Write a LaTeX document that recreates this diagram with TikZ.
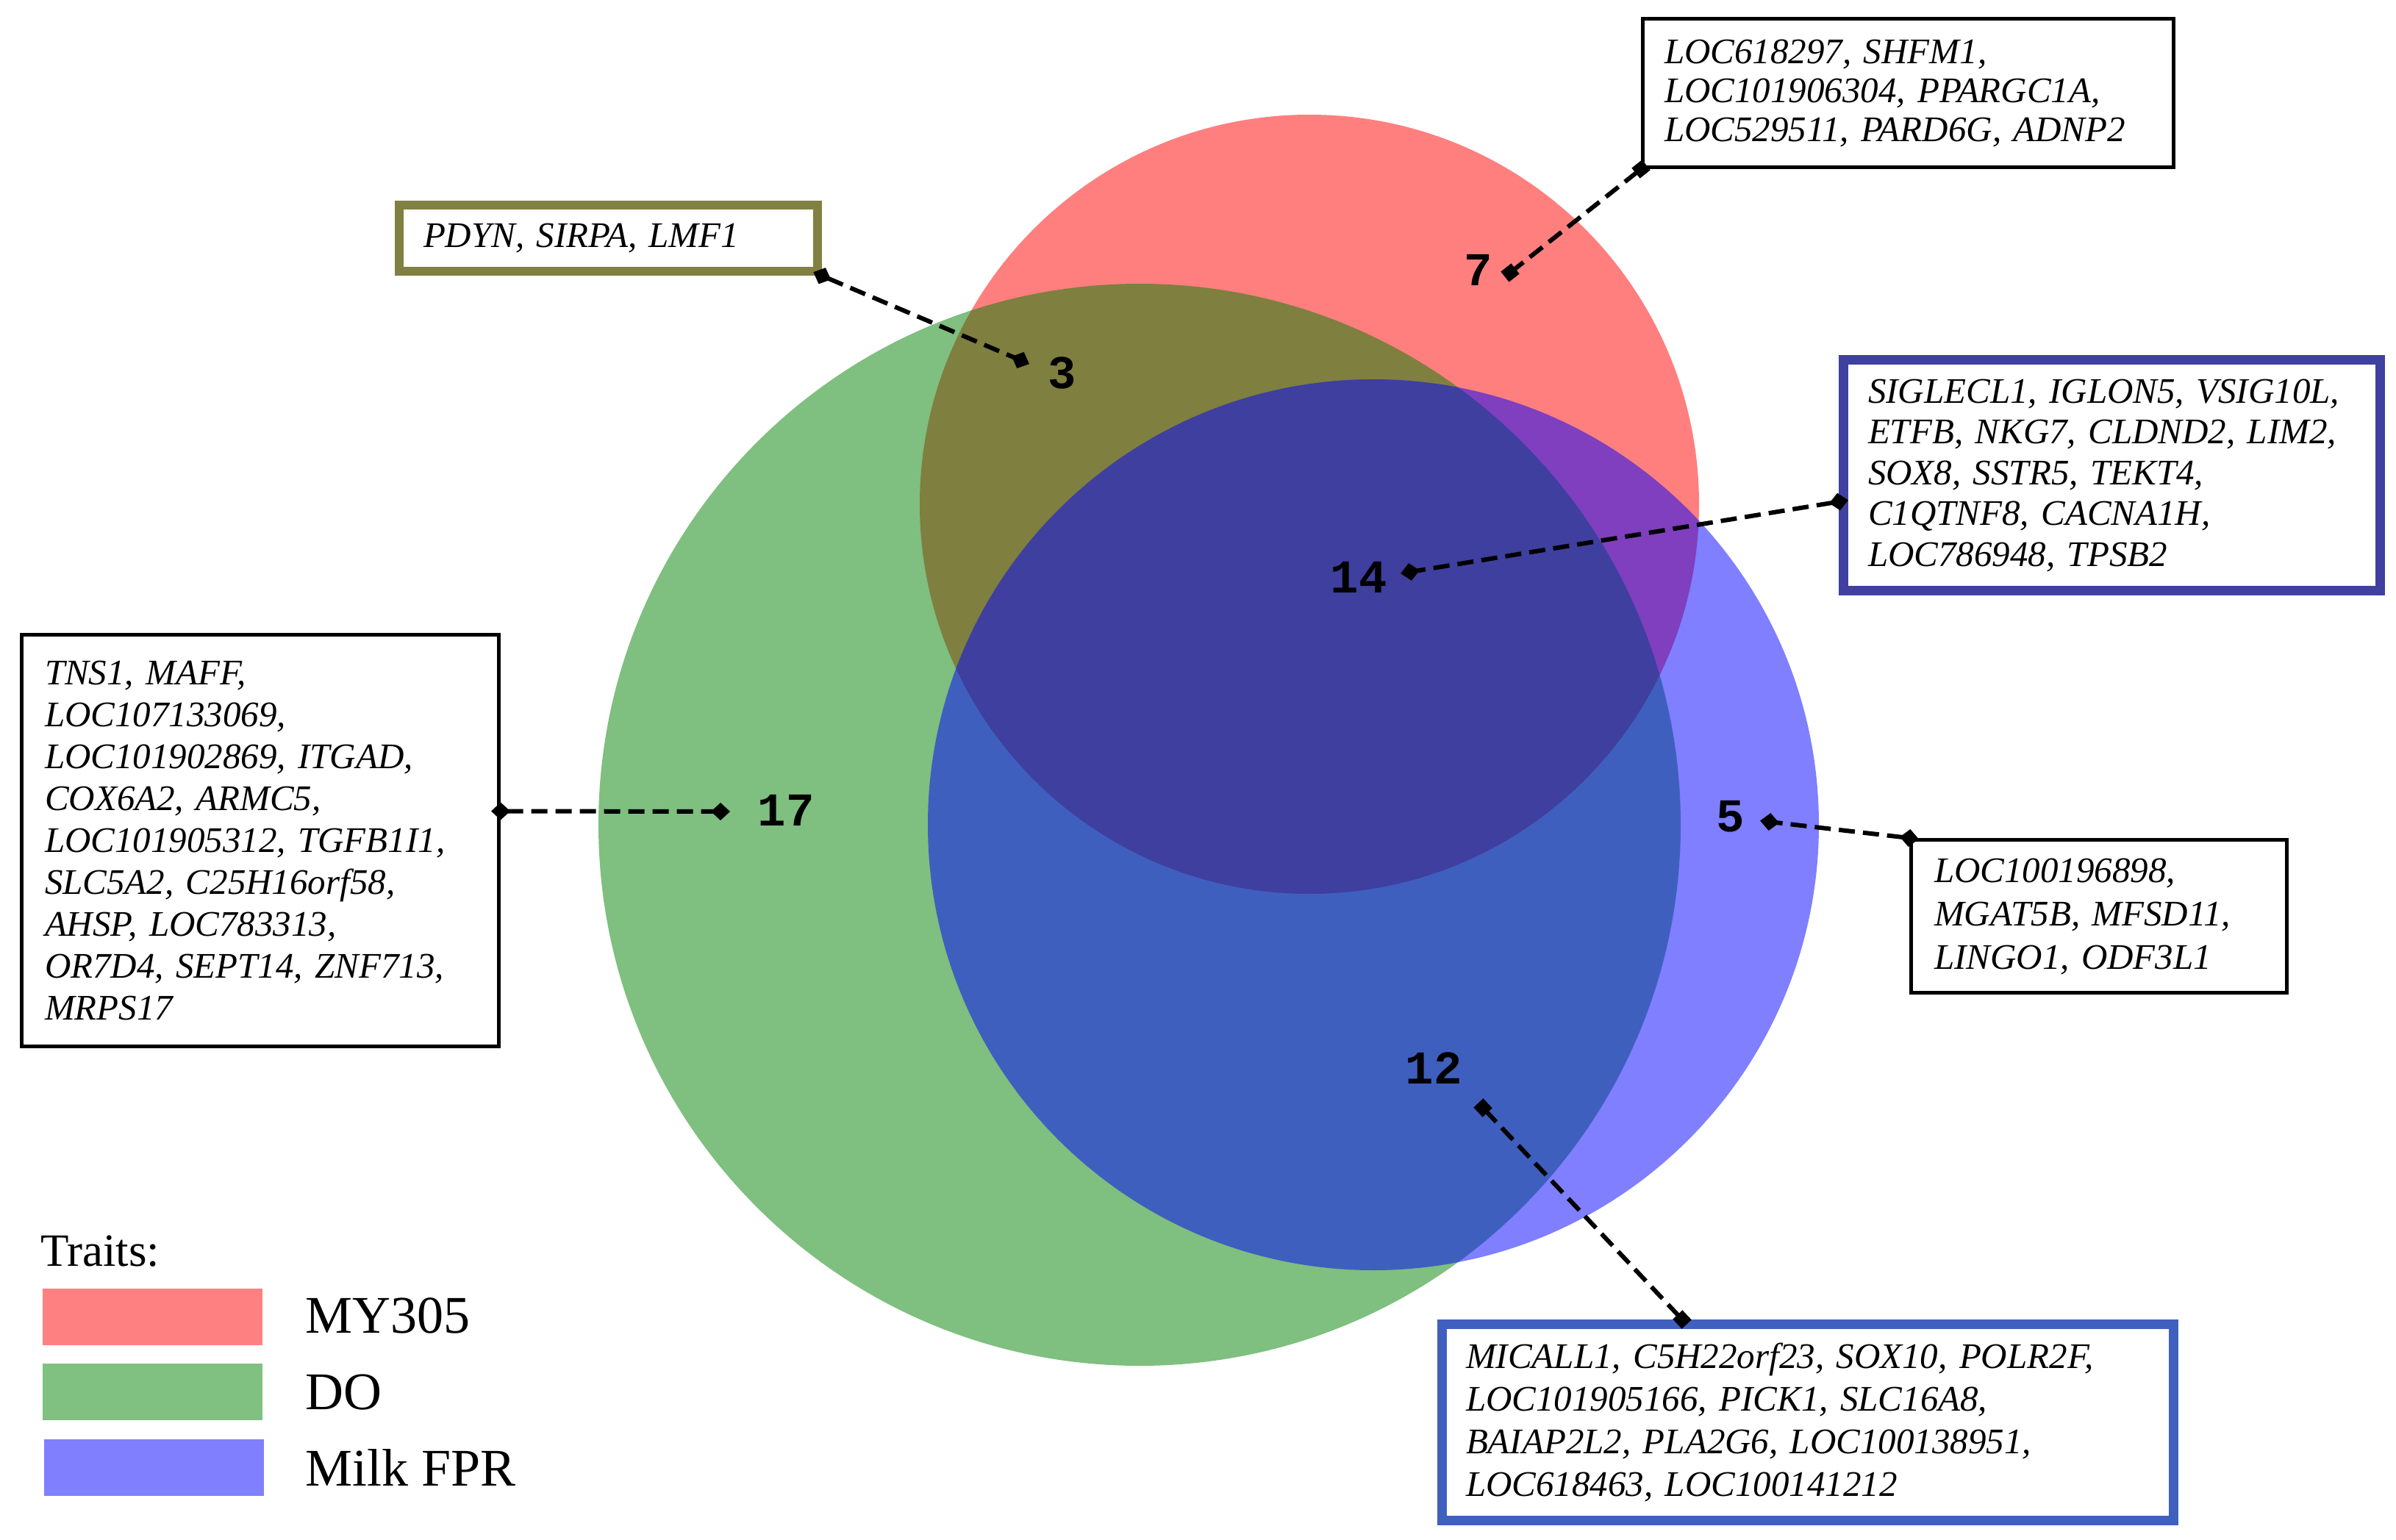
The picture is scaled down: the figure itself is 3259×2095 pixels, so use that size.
\documentclass[tikz,border=0pt]{standalone}
\usepackage{fontspec}
\setmainfont{Liberation Serif}
\newfontfamily\numfont{Liberation Mono}
\usetikzlibrary{arrows.meta}
\definecolor{olivebox}{RGB}{128,128,64}
\definecolor{navybox}{RGB}{64,64,160}
\definecolor{bluebox}{RGB}{64,96,192}
\definecolor{swred}{RGB}{255,128,128}
\definecolor{swgreen}{RGB}{128,192,128}
\definecolor{swblue}{RGB}{128,128,255}
\definecolor{setgreen}{RGB}{0,128,0}
\newcommand{\genefont}[1]{\fontsize{49}{#1}\selectfont\itshape}
\begin{document}
\begin{tikzpicture}[x=1pt,y=-1pt,
  genebox/.style={draw, line width=5pt, inner sep=0pt, align=left, fill=white},
  count/.style={font=\numfont\bfseries\fontsize{64}{64}\selectfont, inner sep=0pt},
  leaderdia/.style={dash pattern=on 22pt off 11pt, line width=6pt,
    {Diamond[length=26pt,width=24pt]}-{Diamond[length=26pt,width=24pt]},
    shorten <=-13pt, shorten >=-13pt},
  leadersq/.style={dash pattern=on 22pt off 11pt, line width=6pt,
    {Square[length=18pt,width=18pt]}-{Square[length=18pt,width=18pt]},
    shorten <=-9pt, shorten >=-9pt},
  swatch/.style={minimum width=299pt, minimum height=77pt, inner sep=0pt, anchor=north west},
  legtext/.style={anchor=base west, inner sep=0pt, font=\fontsize{72}{72}\selectfont}
]
\useasboundingbox (0,0) rectangle (3259,2095);
\fill[white] (0,0) rectangle (3259,2095);

% sets
\fill[red, fill opacity=0.5] (1781,686) circle[radius=530pt];
\fill[setgreen, fill opacity=0.5] (1550,1122) circle[radius=736pt];
\fill[blue, fill opacity=0.5] (1868,1122) circle[radius=606pt];

% gene boxes
\node[genebox, minimum width=722pt, minimum height=202pt, text width=663pt, font=\genefont{53}]
  (boxA) at (2595.5,126.5) {LOC618297, SHFM1,\\ LOC101906304, PPARGC1A,\\ LOC529511, PARD6G, ADNP2};
\node[genebox, draw=olivebox, line width=12.5pt, minimum width=569pt, minimum height=90pt, text width=503pt, font=\genefont{56}]
  (boxB) at (827.5,324) {PDYN, SIRPA, LMF1};
\node[genebox, draw=navybox, line width=13pt, minimum width=730pt, minimum height=314pt, text width=663pt, font=\genefont{55.5}]
  (boxC) at (2872.5,646.5) {SIGLECL1, IGLON5, VSIG10L,\\ ETFB, NKG7, CLDND2, LIM2,\\ SOX8, SSTR5, TEKT4,\\ C1QTNF8, CACNA1H,\\ LOC786948, TPSB2};
\node[genebox, minimum width=649pt, minimum height=560pt, text width=586pt, font=\genefont{57}]
  (boxD) at (354,1143.5) {TNS1, MAFF,\\ LOC107133069,\\ LOC101902869, ITGAD,\\ COX6A2, ARMC5,\\ LOC101905312, TGFB1I1,\\ SLC5A2, C25H16orf58,\\ AHSP, LOC783313,\\ OR7D4, SEPT14, ZNF713,\\ MRPS17};
\node[genebox, minimum width=511pt, minimum height=208pt, text width=448pt, font=\genefont{59}]
  (boxE) at (2855,1246.5) {LOC100196898,\\ MGAT5B, MFSD11,\\ LINGO1, ODF3L1};
\node[genebox, draw=bluebox, line width=13pt, minimum width=995pt, minimum height=267pt, text width=930pt, font=\genefont{58}]
  (boxF) at (2459,1935) {MICALL1, C5H22orf23, SOX10, POLR2F,\\ LOC101905166, PICK1, SLC16A8,\\ BAIAP2L2, PLA2G6, LOC100138951,\\ LOC618463, LOC100141212};

% counts
\node[count] (n7) at (2011,367) {7};
\node[count] (n3) at (1445,507) {3};
\node[count] (n14) at (1848,785) {14};
\node[count] (n17) at (1069,1102) {17};
\node[count] (n5) at (2354,1111) {5};
\node[count] (n12) at (1950,1453) {12};

% leader end points beside the counts
\coordinate (p7) at (2054,371);
\coordinate (p3) at (1388,490);
\coordinate (p14) at (1918,778);
\coordinate (p17) at (980,1104);
\coordinate (p5) at (2407,1118);
\coordinate (p12) at (2017,1507);

% leaders
\draw[leadersq] (boxA.south west) -- (p7);
\draw[leaderdia] (boxB.south east) -- (p3);
\draw[leaderdia] ([yshift=-36pt]boxC.west) -- (p14);
\draw[leaderdia] ([yshift=40pt]boxD.east) -- (p17);
\draw[leaderdia] (boxE.north west) -- (p5);
\draw[leadersq] ([xshift=-171pt]boxF.north) -- (p12);

% legend
\node[anchor=base west, inner sep=0pt, font=\fontsize{63}{63}\selectfont] (traits) at (55,1722) {Traits:};
\node[swatch, fill=swred] (swR) at (58,1753) {};
\node[swatch, fill=swgreen] (swG) at (58,1855) {};
\node[swatch, fill=swblue] (swB) at (60,1958) {};
\node[legtext] (lR) at (415,1813) {MY305};
\node[legtext] (lG) at (415,1917) {DO};
\node[legtext] (lB) at (415,2021) {Milk FPR};
\end{tikzpicture}
\end{document}
